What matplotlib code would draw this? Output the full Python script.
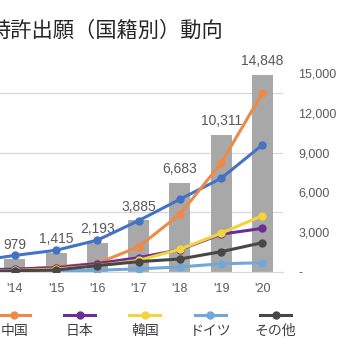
import matplotlib.pyplot as plt
from matplotlib.lines import Line2D

# データ（'13 は左端で切れている）
years = ["'13", "'14", "'15", "'16", "'17", "'18", "'19", "'20"]
total = [620, 979, 1415, 2193, 3885, 6683, 10311, 14848]
us = [800, 1250, 1640, 2400, 3870, 5480, 7060, 9580]
china = [120, 200, 380, 650, 1900, 4350, 8200, 13500]
japan = [150, 220, 320, 640, 1080, 1680, 2850, 3290]
korea = [60, 120, 220, 480, 880, 1710, 2920, 4250]
germany = [20, 40, 70, 130, 240, 380, 620, 700]
other = [60, 90, 150, 480, 780, 980, 1530, 2210]

names = ['米国', '中国', '日本', '韓国', 'ドイツ', 'その他']
series = [us, china, japan, korea, germany, other]
colors = ['#4472C4', '#EE8A47', '#6A2E96', '#F2D43C', '#72A7D8', '#474747']

right_ticks = [0, 3000, 6000, 9000, 12000, 15000]
right_labels = ['-', '3,000', '6,000', '9,000', '12,000', '15,000']
grid_ticks = [4500, 9000, 13500]

plt.rcParams['font.family'] = ['Liberation Sans', 'Noto Sans CJK JP']
W, H = 356, 364
fig = plt.figure(figsize=(W / 100, H / 100), dpi=100)

# 軸は左にはみ出させて、元画像の切り抜きを再現
ax = fig.add_axes([-47 / W, 1 - 272 / H, 330 / W, 199 / H])
x = list(range(len(years)))

ax.bar(x, total, width=0.51, color='#A8A8A8', zorder=2)
for xi, v in zip(x, total):
    ax.annotate(f'{v:,}', (xi, v), xytext=(0, 10), textcoords='offset points',
                ha='center', va='center', fontsize=10, color='#595959')

# Excel と同じく後の系列が上に来る
for k, (s, c) in enumerate(zip(series, colors)):
    ax.plot(x, s, color=c, lw=2.2, marker='o', ms=5, zorder=3 + k)

ax.set_xlim(-0.5, len(years) - 0.5)
ax.set_ylim(0, 15000)
ax.set_xticks(x)
ax.set_xticklabels(years, fontsize=9, color='#595959')
ax.tick_params(axis='x', length=0, pad=8)
ax.set_yticks(grid_ticks)
ax.yaxis.grid(True, color='#D9D9D9', lw=0.9, zorder=0)
ax.tick_params(axis='y', length=0, labelleft=False)
for sp in ['top', 'left', 'right']:
    ax.spines[sp].set_visible(False)
ax.spines['bottom'].set_color('#D9D9D9')
ax.spines['bottom'].set_linewidth(0.9)

ax2 = ax.twinx()
ax2.set_ylim(0, 15000)
ax2.set_yticks(right_ticks)
ax2.set_yticklabels(right_labels, fontsize=9, color='#595959')
ax2.tick_params(axis='y', length=0, pad=11)
for sp in ax2.spines.values():
    sp.set_visible(False)

# タイトル（左端が切れている）
fig.text(-11 / W, 1 - 31 / H, '特許出願（国籍別）動向', fontsize=15.3,
         family=['Noto Sans CJK JP'], color='#262626', ha='left', va='center')

# 凡例（マーカーの下に文字）
for k, (n, c) in enumerate(zip(names, colors)):
    cx = (-51 + 65.3 * k) / W
    fig.add_artist(Line2D([cx - 15.5 / W, cx + 15.5 / W], [1 - 315 / H] * 2,
                          color=c, lw=2.2))
    fig.add_artist(Line2D([cx], [1 - 315 / H], color=c, marker='o', ms=5, lw=0))
    fig.text(cx, 1 - 331 / H, n, fontsize=10, family=['Noto Sans CJK JP'],
             color='#404040', ha='center', va='center')

fig.savefig('out.png', dpi=100)
